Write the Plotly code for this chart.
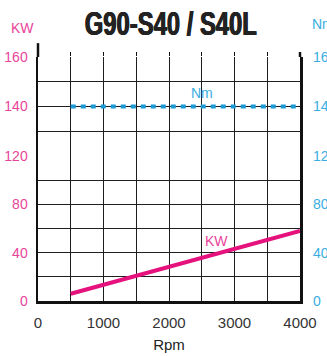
import plotly.graph_objects as go

# ---- data ----
title_text = "G90-S40 / S40L"
rpm_kw = [500, 4000]
kw_values = [6, 58]
rpm_nm = [500, 4000]
nm_values = [140, 140]

x_ticks = [0, 500, 1000, 1500, 2000, 2500, 3000, 3500, 4000]
x_ticktext = ["0", "", "1000", "", "2000", "", "3000", "", "4000"]
low_ticks = [0, 20, 40, 60, 80, 100, 120]
low_ticktext = ["0", "", "40", "", "80", "", ""]
up_ticks = [120, 130, 140, 150, 160]
up_ticktext = ["120", "", "140", "", "160"]

PINK_LINE = "#e5127d"
PINK_TXT = "#e8449a"
BLUE_LINE = "#1b9ad6"
BLUE_TXT = "#3aaee2"
GRID = "#1e1e1e"
AXIS = "#111111"
FONT = "Liberation Sans, Arial, sans-serif"

fig = go.Figure()

fig.add_trace(go.Scatter(x=rpm_kw, y=kw_values, mode="lines",
                         line=dict(color=PINK_LINE, width=4),
                         xaxis="x", yaxis="y", hoverinfo="skip"))
fig.add_trace(go.Scatter(x=rpm_nm, y=nm_values, mode="lines",
                         line=dict(color=BLUE_LINE, width=4, dash="5px,5px"),
                         xaxis="x2", yaxis="y4", hoverinfo="skip"))
# empty trace so the lower right (Nm) axis is drawn
fig.add_trace(go.Scatter(x=[], y=[], mode="lines", xaxis="x", yaxis="y3",
                         hoverinfo="skip"))

split = 0.594
common_x = dict(range=[0, 4000], tickmode="array", tickvals=x_ticks,
                showgrid=True, gridcolor=GRID, gridwidth=1, zeroline=False,
                fixedrange=True, automargin=False)
common_y = dict(tickmode="array", zeroline=False, fixedrange=True,
                automargin=False, ticks="")

fig.update_layout(
    width=327, height=356,
    margin=dict(l=38, r=27, t=57, b=55),
    paper_bgcolor="white", plot_bgcolor="white",
    showlegend=False, hovermode=False,
    font=dict(family=FONT),
    xaxis=dict(**common_x, domain=[0, 1], anchor="y", ticktext=x_ticktext,
               showline=True, linecolor=AXIS, linewidth=2.5,
               ticks="", ticklabelstandoff=6,
               tickfont=dict(size=15, color="#333333"),
               title=dict(text="Rpm", font=dict(size=15, color="#222222"), standoff=10)),
    xaxis2=dict(**common_x, domain=[0, 1], anchor="y2", side="top",
                showticklabels=False, ticks="outside", ticklen=4,
                tickcolor=AXIS, tickwidth=1, showline=False),
    yaxis=dict(**common_y, domain=[0, split], anchor="x", range=[0, 120],
               tickvals=low_ticks, ticktext=low_ticktext,
               showgrid=True, gridcolor=GRID, gridwidth=1,
               showline=True, linecolor=AXIS, linewidth=2.5, mirror=True,
               ticklabelstandoff=5,
               tickfont=dict(size=14, color=PINK_TXT)),
    yaxis2=dict(**common_y, domain=[split, 1], anchor="x2", range=[120, 160],
                tickvals=up_ticks, ticktext=up_ticktext,
                showgrid=True, gridcolor=GRID, gridwidth=1,
                showline=True, linecolor=AXIS, linewidth=2.5, mirror=True,
                ticklabelstandoff=5,
                tickfont=dict(size=14, color=PINK_TXT)),
    yaxis3=dict(**common_y, anchor="x", overlaying="y", side="right",
                range=[0, 120], tickvals=low_ticks, ticktext=low_ticktext,
                showgrid=False, showline=False,
                ticklabelstandoff=12,
                tickfont=dict(size=14, color=BLUE_TXT)),
    yaxis4=dict(**common_y, anchor="x2", overlaying="y2", side="right",
                range=[120, 160], tickvals=up_ticks, ticktext=up_ticktext,
                showgrid=False, showline=False,
                ticklabelstandoff=12,
                tickfont=dict(size=14, color=BLUE_TXT)),
)

# axis stubs above the top gridline
fig.add_shape(type="line", xref="x2 domain", yref="y2 domain",
              x0=0, x1=0, y0=1, y1=1.14, line=dict(color=AXIS, width=2.5))
fig.add_shape(type="line", xref="x2 domain", yref="y2 domain",
              x0=1, x1=1, y0=1, y1=1.05, line=dict(color=AXIS, width=2.5))

fig.add_annotation(text=title_text, xref="paper", yref="paper", x=0.506, y=1.138,
                   xanchor="center", yanchor="middle", showarrow=False,
                   font=dict(family=FONT, size=34, color="#222222", weight="bold",
                             shadow="0.7px 0 0 #222, -0.7px 0 0 #222"))
fig.add_annotation(text="KW", xref="paper", yref="paper", x=-0.058, y=1.12,
                   xanchor="center", yanchor="middle", showarrow=False,
                   font=dict(size=14, color=PINK_TXT))
fig.add_annotation(text="Nm", xref="paper", yref="paper", x=1.04, y=1.135,
                   xanchor="left", yanchor="middle", showarrow=False,
                   font=dict(size=14, color=BLUE_TXT))
fig.add_annotation(text="KW", xref="x", yref="y", x=2730, y=50,
                   xanchor="center", yanchor="middle", showarrow=False,
                   font=dict(size=14, color=PINK_TXT))
fig.add_annotation(text="Nm", xref="x2", yref="y2", x=2500, y=145.5,
                   xanchor="center", yanchor="middle", showarrow=False,
                   font=dict(size=14, color=BLUE_TXT))

# page without default body margin; squeeze the heavy title horizontally
# to the reference width (it stays real text)
post = """
document.body.style.margin = '0';
document.body.style.overflow = 'hidden';
var gd = document.getElementById('{plot_id}');
function squeeze(){
  gd.querySelectorAll('text.annotation-text').forEach(function(t){
    if (t.textContent.indexOf('G90') === 0) {
      t.setAttribute('textLength', '172');
      t.setAttribute('lengthAdjust', 'spacingAndGlyphs');
    }
  });
}
squeeze();
gd.on('plotly_afterplot', squeeze);
"""

fig.write_html("out.html", post_script=post,
               config={"displayModeBar": False, "staticPlot": True})
